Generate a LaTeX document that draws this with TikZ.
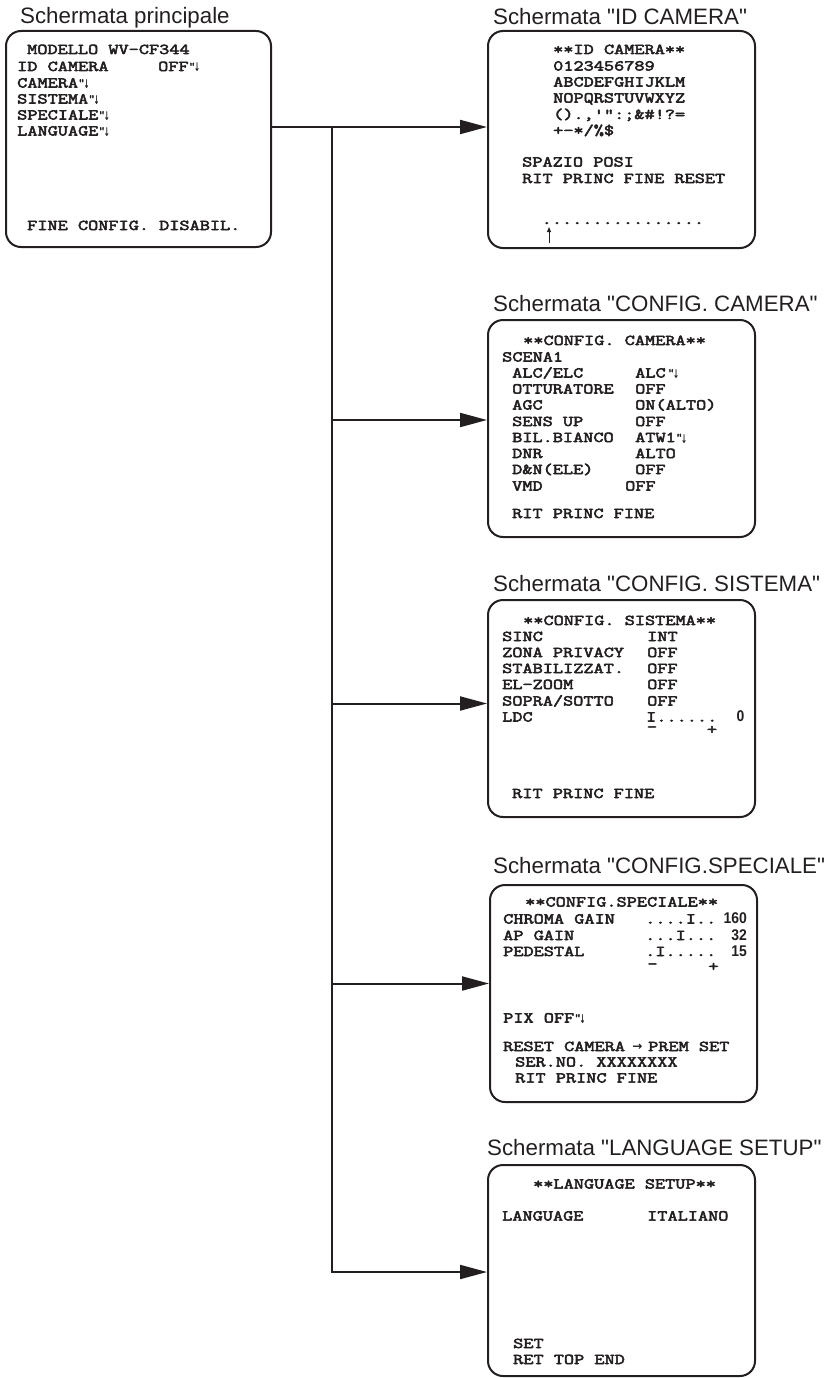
\documentclass[tikz,border=0pt]{standalone}
\usepackage{fontspec}
\usepackage{graphicx}
\usetikzlibrary{arrows.meta}
\setmonofont[FakeStretch=1.314, FakeBold=3.5]{Latin Modern Mono}
\newfontfamily\titlefont{Liberation Sans}
\newfontfamily\digfont[FakeStretch=0.9]{Liberation Sans}
\newfontfamily\arrfont{DejaVu Sans}
\definecolor{ink}{RGB}{35,31,32}
\newcommand\entr{\raisebox{2pt}{\fontsize{10}{10}\selectfont"}\kern-1.5pt\raisebox{-1pt}{\scalebox{0.6}[1]{\arrfont\bfseries\fontsize{12}{12}\selectfont ↓}}}
\begin{document}
\begin{tikzpicture}[x=1pt,y=-1pt,
  screen/.style={draw=ink, line width=2pt, rounded corners=15pt, minimum width=267pt, minimum height=217pt, inner sep=0pt},
  mono/.style={font=\ttfamily\fontsize{15}{16}\selectfont, text=ink, anchor=base west, inner sep=0pt},
  signmark/.style={font=\ttfamily\fontsize{15}{16}\selectfont, text=ink, anchor=center, inner sep=0pt},
  title/.style={font=\titlefont\fontsize{22.3}{26}\selectfont, text=ink, anchor=base west, inner sep=0pt},
  num/.style={font=\digfont\bfseries\fontsize{15.5}{16}\selectfont, text=ink, anchor=base east, inner sep=0pt},
  conn/.style={draw=ink, line width=2pt},
  arr/.style={conn, -{Triangle[length=27pt,width=14pt]}}]

\useasboundingbox (0,0) rectangle (829,1378);

% screens
\node[screen, minimum width=265pt, minimum height=216pt] (main) at (138.5,139) {};
\node[screen] (idc) at (621.5,139.5) {};
\node[screen] (cam) at (621.5,428.5) {};
\node[screen] (sis) at (621.5,708.5) {};
\node[screen] (spe) at (623.5,993.5) {};
\node[screen, minimum height=211pt] (lan) at (621.5,1270.5) {};

% titles
\node[title] (t0) at (20,24) {Schermata principale};
\node[title] (t1) at (493,24.5) {Schermata "ID CAMERA"};
\node[title] (t2) at (493,311.5) {Schermata "CONFIG. CAMERA"};
\node[title] (t3) at (493,591.5) {Schermata "CONFIG. SISTEMA"};
\node[title] (t4) at (493,873) {Schermata "CONFIG.SPECIALE"};
\node[title] (t5) at (487,1155) {Schermata "LANGUAGE SETUP"};

% connectors
\coordinate (j0) at (332,127);
\coordinate (j1) at (332,420);
\coordinate (j2) at (332,703.5);
\coordinate (j3) at (332,983.5);
\coordinate (j4) at (332,1272);
\draw[arr] (main.east |- j0) -- (idc.west |- j0);
\draw[arr] (j0) |- (lan.west |- j4);
\draw[arr] (j1) -- (cam.west |- j1);
\draw[arr] (j2) -- (sis.west |- j2);
\draw[arr] (j3) -- (spe.west |- j3);

% main screen
\node[mono] (m1) at (27,54) {MODELLO WV-CF344};
\node[mono] (m2) at (17,71) {ID CAMERA};
\node[mono] (m2v) at (158,71) {OFF\entr};
\node[mono] (m3) at (17,87.5) {CAMERA\entr};
\node[mono] (m4) at (17,103.5) {SISTEMA\entr};
\node[mono] (m5) at (17,119.5) {SPECIALE\entr};
\node[mono] (m6) at (17,135.5) {LANGUAGE\entr};
\node[mono] (m7) at (27,230) {FINE CONFIG. DISABIL.};

% ID CAMERA screen
\node[mono] (i1) at (553,54) {**ID CAMERA**};
\node[mono] (i2) at (553,70.5) {0123456789};
\node[mono] (i3) at (553,86.5) {ABCDEFGHIJKLM};
\node[mono] (i4) at (553,102.5) {NOPQRSTUVWXYZ};
\node[mono] (i5) at (553,119) {().,'":;\&\#!?=};
\node[mono] (i6) at (553,135) {+-*/\%\$};
\node[mono] (i7) at (522,166.5) {SPAZIO POSI};
\node[mono] (i8) at (522,183) {RIT PRINC FINE RESET};
\node[mono] (i9) at (541.5,224) {................};
\coordinate (ua) at (549,243);
\coordinate (ub) at (549,227);
\draw[draw=ink, line width=1pt, -{Triangle[length=5pt,width=4pt]}] (ua) -- (ub);

% CONFIG. CAMERA screen
\node[mono] (c0) at (523,345) {**CONFIG. CAMERA**};
\node[mono] (c1) at (502,361.5) {SCENA1};
\node[mono] (c2) at (512,377.5) {ALC/ELC};
\node[mono] (c2v) at (635,377.5) {ALC\kern2pt\entr};
\node[mono] (c3) at (512,393.5) {OTTURATORE};
\node[mono] (c3v) at (635,393.5) {OFF};
\node[mono] (c4) at (512,409.5) {AGC};
\node[mono] (c4v) at (635,409.5) {ON(ALTO)};
\node[mono] (c5) at (512,426) {SENS UP};
\node[mono] (c5v) at (635,426) {OFF};
\node[mono] (c6) at (512,442) {BIL.BIANCO};
\node[mono] (c6v) at (635,442) {ATW1\entr};
\node[mono] (c7) at (512,458) {DNR};
\node[mono] (c7v) at (635,458) {ALTO};
\node[mono] (c8) at (512,474) {D\&N(ELE)};
\node[mono] (c8v) at (635,474) {OFF};
\node[mono] (c9) at (512,490.5) {VMD};
\node[mono] (c9v) at (625,490.5) {OFF};
\node[mono] (c10) at (512,518) {RIT PRINC FINE};

% CONFIG. SISTEMA screen
\node[mono] (s0) at (523,625) {**CONFIG. SISTEMA**};
\node[mono] (s1) at (502,641) {SINC};
\node[mono] (s1v) at (647,641) {INT};
\node[mono] (s2) at (502,657) {ZONA PRIVACY};
\node[mono] (s2v) at (647,657) {OFF};
\node[mono] (s3) at (502,673) {STABILIZZAT.};
\node[mono] (s3v) at (647,673) {OFF};
\node[mono] (s4) at (502,689) {EL-ZOOM};
\node[mono] (s4v) at (647,689) {OFF};
\node[mono] (s5) at (502,705.5) {SOPRA/SOTTO};
\node[mono] (s5v) at (647,705.5) {OFF};
\node[mono] (s6) at (502,721.5) {LDC};
\node[mono] (s6v) at (646,721.5) {I......};
\node[num] (s6n) at (744.5,721.5) {0};
\node[signmark] (s6m) at (652,729) {-};
\node[signmark] (s6p) at (712,730) {+};
\node[mono] (s7) at (512,798) {RIT PRINC FINE};

% CONFIG.SPECIALE screen
\node[mono] (p0) at (525,906.5) {**CONFIG.SPECIALE**};
\node[mono] (p1) at (503,923.5) {CHROMA GAIN};
\node[mono] (p1v) at (645,923.5) {....I..};
\node[num] (p1n) at (747,923.5) {160};
\node[mono] (p2) at (503,940) {AP GAIN};
\node[mono] (p2v) at (645,940) {...I...};
\node[num] (p2n) at (747,940) {32};
\node[mono] (p3) at (503,956) {PEDESTAL};
\node[mono] (p3v) at (645,956) {.I.....};
\node[num] (p3n) at (747,956) {15};
\node[signmark] (p3m) at (652.5,966) {-};
\node[signmark] (p3p) at (713.5,967) {+};
\node[mono] (p4) at (503,1022.5) {PIX OFF\entr};
\node[mono] (p5) at (503,1051) {RESET CAMERA};
\node[inner sep=0pt, anchor=center, text=ink, font=\arrfont\bfseries\fontsize{12}{12}\selectfont] (p5a) at (637.5,1047) {→};
\node[mono] (p5b) at (648,1051) {PREM SET};
\node[mono] (p6) at (515,1066.5) {SER.NO. XXXXXXXX};
\node[mono] (p7) at (515,1082.5) {RIT PRINC FINE};

% LANGUAGE SETUP screen
\node[mono] (l0) at (533,1188.5) {**LANGUAGE SETUP**};
\node[mono] (l1) at (502,1220.5) {LANGUAGE};
\node[mono] (l1v) at (647,1220.5) {ITALIANO};
\node[mono] (l2) at (513,1348) {SET};
\node[mono] (l3) at (513,1364) {RET TOP END};
\end{tikzpicture}
\end{document}
